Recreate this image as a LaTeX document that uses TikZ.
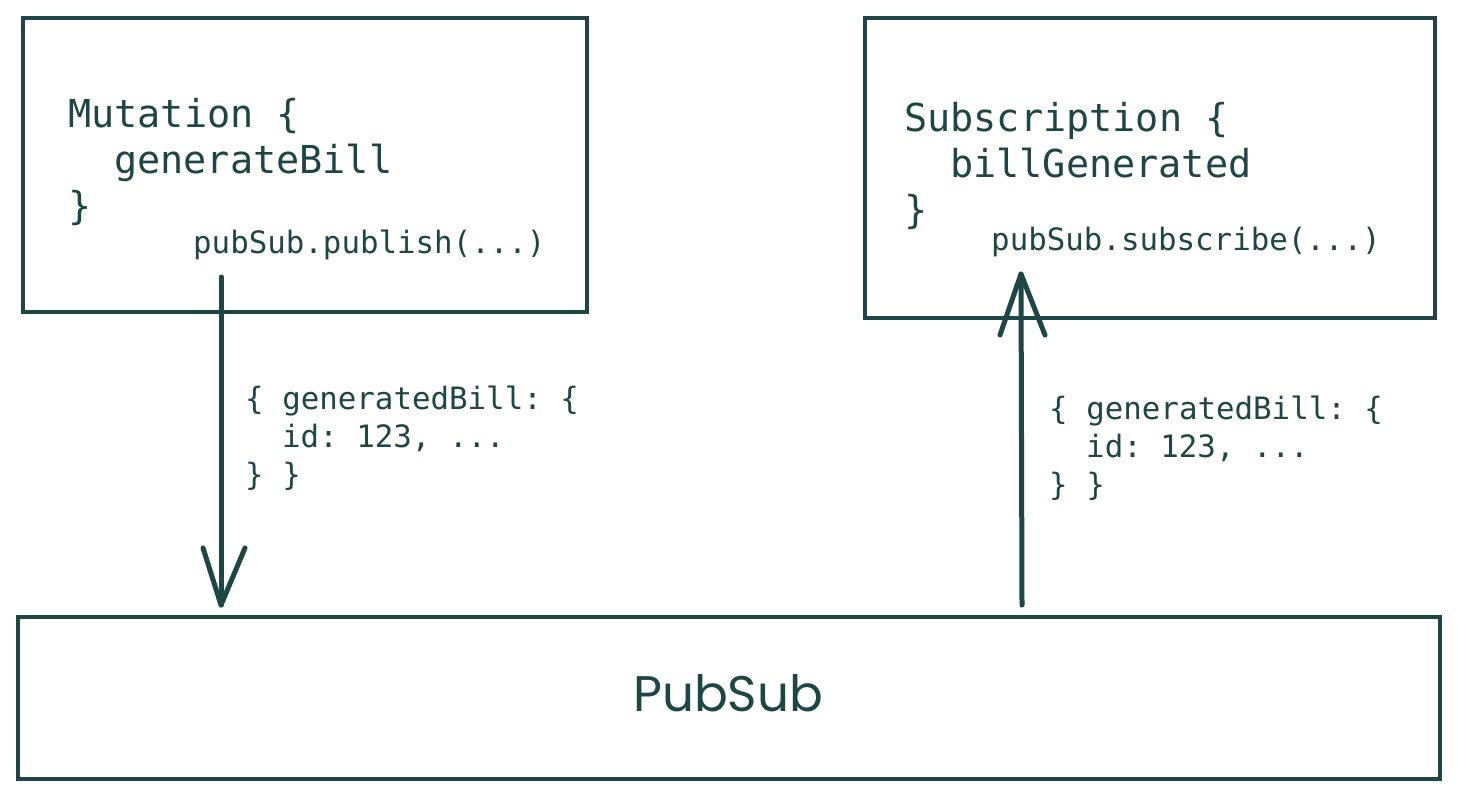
\documentclass[tikz,border=0pt]{standalone}
\usepackage{fontspec}
\setmonofont{DejaVu Sans Mono}
\newfontfamily\handfont{Poppins}
\definecolor{ink}{HTML}{1E4644}
\begin{document}
\begin{tikzpicture}[x=1pt,y=-1pt,
  box/.style={draw=ink, line width=4.5pt, rectangle, inner sep=0pt},
  big/.style={text=ink, inner sep=0pt, anchor=base west, font=\ttfamily\fontsize{38.5}{46}\selectfont},
  small/.style={text=ink, inner sep=0pt, anchor=base west, font=\ttfamily\fontsize{30.8}{38}\selectfont},
  conn/.style={draw=ink, line width=5pt, line cap=round, line join=round}]
\useasboundingbox (0,0) rectangle (1458,798);
\fill[white] (0,0) rectangle (1458,798);
% boxes
\node[box, minimum width=564pt, minimum height=294pt] (mut) at (305,165) {};
\node[box, minimum width=570pt, minimum height=300pt] (sub) at (1150,168) {};
\node[box, minimum width=1422pt, minimum height=162pt] (ps) at (729,698) {};
% box texts
\node[big] (m1) at (68,127) {Mutation \{};
\node[big] (m2) at (114,173) {generateBill};
\node[big] (m3) at (68,219) {\}};
\node[small] (m4) at (193,253) {pubSub.publish(...)};
\node[big] (s1) at (904,131) {Subscription \{};
\node[big] (s2) at (950,177) {billGenerated};
\node[big] (s3) at (904,223) {\}};
\node[small] (s4) at (991,250) {pubSub.subscribe(...)};
\node[text=ink, inner sep=0pt, font=\handfont\fontsize{50}{56}\selectfont] (pst) at (728,693) {PubSub};
% arrows
\coordinate (a1s) at (221,277);
\coordinate (a1e) at (221,605);
\coordinate (a1l) at (203,548);
\coordinate (a1r) at (245,548);
\draw[conn] (a1s) -- (a1e);
\draw[conn] (a1l) -- (a1e) -- (a1r);
\coordinate (a2s) at (1022,605);
\coordinate (a2e) at (1021,274);
\coordinate (a2l) at (1000,335);
\coordinate (a2r) at (1045,335);
\draw[conn] (a2s) -- (a2e);
\draw[conn] (a2l) -- (a2e) -- (a2r);
% labels
\node[small] (l1) at (245,409) {\{ generatedBill: \{};
\node[small] (l2) at (282,447) {id: 123, ...};
\node[small] (l3) at (245,485) {\} \}};
\node[small] (r1) at (1049,419) {\{ generatedBill: \{};
\node[small] (r2) at (1086,457) {id: 123, ...};
\node[small] (r3) at (1049,495) {\} \}};
\end{tikzpicture}
\end{document}
